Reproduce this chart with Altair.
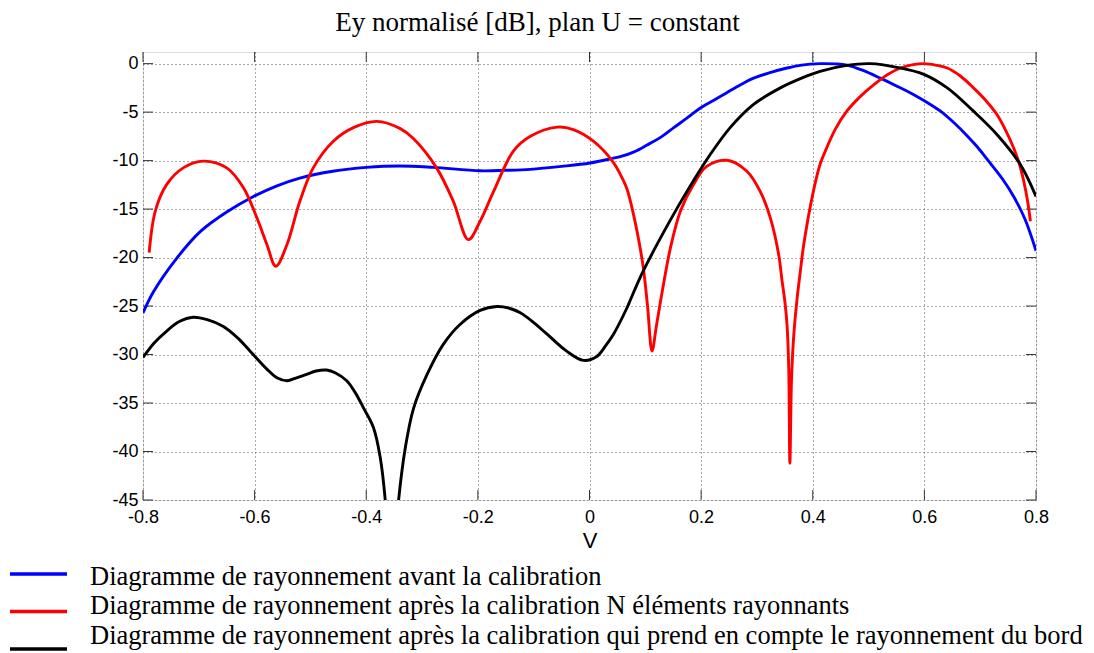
import altair as alt
import pandas as pd

# ---------------- data ----------------
names = [
    "Diagramme de rayonnement avant la calibration",
    "Diagramme de rayonnement après la calibration N éléments rayonnants",
    "Diagramme de rayonnement après la calibration qui prend en compte le rayonnement du bord",
]
colors = ["#0000ff", "#ff0000", "#000000"]

blue_x = [-0.8, -0.781, -0.74, -0.697, -0.65, -0.602, -0.56, -0.519, -0.46, -0.4,
          -0.34, -0.28, -0.196, -0.15, -0.106, -0.05, 0.001, 0.043, 0.055, 0.08,
          0.103, 0.13, 0.151, 0.175, 0.198, 0.222, 0.246, 0.27, 0.294, 0.325,
          0.354, 0.38, 0.413, 0.44, 0.461, 0.49, 0.521, 0.55, 0.581, 0.605,
          0.629, 0.655, 0.676, 0.695, 0.713, 0.74, 0.761, 0.78, 0.8]
blue_y = [-25.7, -23.5, -20.1, -17.3, -15.3, -13.7, -12.6, -11.8, -11.1, -10.7,
          -10.55, -10.7, -11.05, -11.0, -10.9, -10.6, -10.25, -9.75, -9.6, -9.1,
          -8.4, -7.5, -6.6, -5.6, -4.6, -3.8, -3.0, -2.2, -1.5, -0.9,
          -0.45, -0.15, 0.0, -0.03, -0.15, -0.7, -1.5, -2.3, -3.2, -4.0,
          -4.9, -6.2, -7.4, -8.6, -9.9, -11.9, -13.8, -16.0, -19.3]

red_x = [-0.789, -0.778, -0.758, -0.728, -0.692, -0.65, -0.62, -0.596, -0.578, -0.562,
         -0.542, -0.519, -0.495, -0.459, -0.423, -0.381, -0.339, -0.316, -0.274, -0.244,
         -0.217, -0.196, -0.172, -0.136, -0.106, -0.058, -0.029, 0.007, 0.043, 0.055,
         0.067, 0.079, 0.091, 0.097, 0.104, 0.112, 0.12, 0.13, 0.145, 0.163,
         0.186, 0.21, 0.246, 0.282, 0.306, 0.324, 0.339, 0.345, 0.35, 0.354,
         0.357, 0.359, 0.362, 0.366, 0.372, 0.378, 0.384, 0.401, 0.413, 0.419,
         0.44, 0.461, 0.485, 0.509, 0.535, 0.557, 0.58, 0.599, 0.62, 0.641,
         0.665, 0.688, 0.71, 0.73, 0.745, 0.76, 0.77, 0.778, 0.785, 0.79]
red_y = [-19.5, -15.2, -12.5, -10.75, -10.05, -10.75, -12.8, -15.9, -18.65, -20.9,
         -18.65, -14.2, -10.75, -8.0, -6.6, -5.95, -6.7, -7.7, -10.75, -14.2,
         -18.15, -16.25, -13.2, -9.0, -7.5, -6.55, -6.8, -8.0, -10.2, -11.4,
         -12.9, -15.6, -19.1, -21.3, -25.0, -29.65, -27.0, -23.6, -19.0, -15.2,
         -12.5, -10.6, -9.97, -11.1, -13.2, -15.9, -19.7, -22.4, -24.5, -27.0,
         -31.5, -41.2, -32.5, -28.0, -24.2, -21.3, -18.6, -13.2, -10.4, -9.5,
         -6.8, -4.9, -3.4, -2.2, -1.1, -0.45, -0.1, 0.0, -0.15, -0.45,
         -1.3, -2.5, -3.8, -5.25, -6.8, -8.7, -10.3, -12.1, -14.2, -16.25]

black_x = [-0.8, -0.78, -0.758, -0.735, -0.71, -0.685, -0.656, -0.63, -0.608, -0.578,
           -0.56, -0.542, -0.525, -0.507, -0.49, -0.471, -0.455, -0.435, -0.42, -0.405,
           -0.387, -0.375, -0.366, -0.355, -0.342, -0.33, -0.315, -0.291, -0.262, -0.232,
           -0.196, -0.166, -0.145, -0.124, -0.1, -0.076, -0.041, -0.011, 0.013, 0.03,
           0.043, 0.067, 0.073, 0.088, 0.097, 0.127, 0.157, 0.186, 0.216, 0.252,
           0.294, 0.342, 0.38, 0.413, 0.461, 0.503, 0.551, 0.599, 0.641, 0.688,
           0.73, 0.772, 0.8]
black_y = [-30.3, -28.8, -27.6, -26.6, -26.15, -26.4, -27.1, -28.3, -29.65, -31.5,
           -32.4, -32.7, -32.4, -32.05, -31.7, -31.6, -31.9, -32.7, -33.9, -35.5,
           -37.55, -40.6, -45.0, -55.0, -45.0, -39.6, -35.5, -32.05, -28.95, -26.9,
           -25.45, -25.05, -25.2, -25.7, -26.7, -27.9, -29.65, -30.6, -30.2, -29.0,
           -27.9, -25.2, -24.4, -22.4, -21.3, -18.0, -14.9, -12.1, -9.4, -6.6,
           -4.2, -2.5, -1.5, -0.8, -0.18, 0.0, -0.38, -1.1, -2.5, -4.9,
           -7.3, -10.4, -13.7]

x_ticks = [-0.8, -0.6, -0.4, -0.2, 0, 0.2, 0.4, 0.6, 0.8]
y_ticks = [-45, -40, -35, -30, -25, -20, -15, -10, -5, 0]

title_text = "Ey normalisé [dB], plan U = constant"
x_title = "V"

# ---------------- layout constants ----------------
X_MIN, X_MAX = -0.8, 0.8
Y_MIN, Y_MAX = -45, 1.2
W, H = 893, 448
TICK_PX = 10

rows = []
for nm, xs, ys in zip(names, [blue_x, red_x, black_x], [blue_y, red_y, black_y]):
    for i, (a, b) in enumerate(zip(xs, ys)):
        rows.append({"x": a, "y": b, "serie": nm, "i": i})
df = pd.DataFrame(rows)

xscale = alt.Scale(domain=[X_MIN, X_MAX], nice=False, zero=False)
yscale = alt.Scale(domain=[Y_MIN, Y_MAX], nice=False, zero=False)
cscale = alt.Scale(domain=names, range=colors)

tick_dx = TICK_PX / W * (X_MAX - X_MIN)
tick_dy = TICK_PX / H * (Y_MAX - Y_MIN)

xt = pd.DataFrame({"v": x_ticks})
yt = pd.DataFrame({"v": y_ticks})
xt["b0"], xt["b1"] = Y_MIN, Y_MIN + tick_dy
xt["t0"], xt["t1"] = Y_MAX, Y_MAX - tick_dy
yt["l0"], yt["l1"] = X_MIN, X_MIN + tick_dx
yt["r0"], yt["r1"] = X_MAX, X_MAX - tick_dx

label_font = "Liberation Sans"
serif = "Liberation Serif"

x_axis = alt.Axis(values=x_ticks, title=x_title, grid=True, ticks=False, domain=False,
                  labelFont=label_font, labelFontSize=18, labelColor="black",
                  labelPadding=8, labelFlush=False, labelOverlap=False,
                  labelExpr="datum.value == 0 ? '0' : replace(format(datum.value, '.1f'), '\u2212', '-')",
                  titleFont=label_font, titleFontSize=22, titleFontWeight="normal",
                  titleColor="black", titlePadding=4,
                  gridDash=[1, 3], gridColor="#555555", gridOpacity=1)
y_axis = alt.Axis(values=y_ticks, title=None, grid=True, ticks=False, domain=False,
                  labelFont=label_font, labelFontSize=18, labelColor="black",
                  labelPadding=5, labelFlush=False, labelOverlap=False,
                  labelExpr="replace(format(datum.value, 'd'), '\u2212', '-')",
                  gridDash=[1, 3], gridColor="#555555", gridOpacity=1)

lines = alt.Chart(df).mark_line(clip=True, strokeWidth=2.9, interpolate="catmull-rom").encode(
    x=alt.X("x:Q", scale=xscale, axis=x_axis),
    y=alt.Y("y:Q", scale=yscale, axis=y_axis),
    order="i:Q",
    color=alt.Color("serie:N", scale=cscale, legend=None),
)

tick_color = "#333333"
bottom = alt.Chart(xt).mark_rule(color=tick_color, strokeWidth=1).encode(
    x=alt.X("v:Q", scale=xscale), y=alt.Y("b0:Q", scale=yscale, axis=None), y2="b1:Q")
top = alt.Chart(xt).mark_rule(color=tick_color, strokeWidth=1).encode(
    x=alt.X("v:Q", scale=xscale), y=alt.Y("t0:Q", scale=yscale, axis=None), y2="t1:Q")
left = alt.Chart(yt).mark_rule(color=tick_color, strokeWidth=1).encode(
    y=alt.Y("v:Q", scale=yscale, axis=None), x=alt.X("l0:Q", scale=xscale), x2="l1:Q")
right = alt.Chart(yt).mark_rule(color=tick_color, strokeWidth=1).encode(
    y=alt.Y("v:Q", scale=yscale, axis=None), x=alt.X("r0:Q", scale=xscale), x2="r1:Q")

# ---------------- legend (below the plot, MATLAB style) ----------------
leg = pd.DataFrame({"serie": names, "k": [0, 1, 2]})
sym = alt.Chart(leg).mark_rule(strokeWidth=3.3).encode(
    x=alt.value(-133), x2=alt.value(-76),
    y=alt.Y("k:Q", scale=alt.Scale(domain=[0, 2], range=[522, 597]), axis=None),
    color=alt.Color("serie:N", scale=cscale, legend=None),
)
txt = alt.Chart(leg).mark_text(align="left", baseline="middle", font=serif, fontSize=26.5,
                                color="black").encode(
    x=alt.value(-53),
    y=alt.Y("k:Q", scale=alt.Scale(domain=[0, 2], range=[525, 583.5]), axis=None),
    text="serie:N",
)

chart = alt.layer(bottom, top, left, right, lines, sym, txt).resolve_scale(y="independent").properties(
    width=W, height=H,
    padding={"left": 0, "top": 0, "right": 0, "bottom": 0},
    title=alt.TitleParams(title_text, font=serif, fontSize=27, fontWeight="normal",
                          color="black", anchor="middle", dx=-52, offset=15),
).configure_view(stroke="#333333", strokeWidth=1).configure(background="white")

chart.save("out.html", embed_options={"renderer": "svg", "actions": False})
